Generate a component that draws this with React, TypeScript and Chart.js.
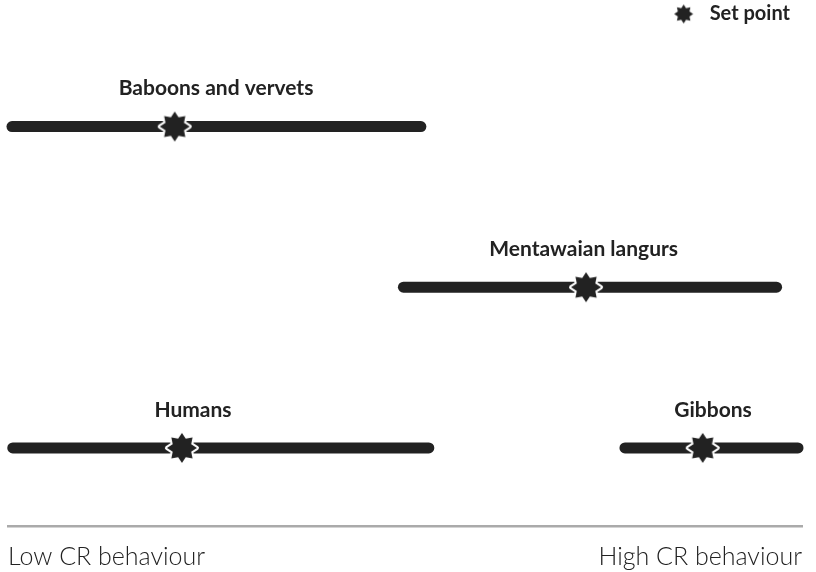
import React, { useEffect, useRef } from "react";
import { Chart, registerables } from "chart.js";
Chart.register(...registerables);

// ---- data ----
const groups = ["Baboons and vervets", "Mentawaian langurs", "Humans", "Gibbons"];
const rows = [3, 2, 1, 1];
const rangeLow = [0.5, 49.8, 0.6, 77.7];
const rangeHigh = [52.0, 96.8, 53.0, 99.5];
const setPoints = [21.0, 72.8, 21.9, 87.5];
const labelX = [26.2, 72.5, 23.3, 88.8];
const axisLabels = ["Low CR behaviour", "High CR behaviour"];
const legendLabel = "Set point";

const INK = "#222222";

function makeStar(outer: number, inner: number, border: number): HTMLCanvasElement {
  const size = Math.ceil((outer + border + 1) * 2);
  const c = document.createElement("canvas");
  c.width = size;
  c.height = size;
  const ctx = c.getContext("2d")!;
  const cx = size / 2;
  const cy = size / 2;
  const n = 8;
  ctx.beginPath();
  for (let i = 0; i < n * 2; i++) {
    const r = i % 2 === 0 ? outer : inner;
    const a = -Math.PI / 2 + (i * Math.PI) / n;
    const x = cx + r * Math.cos(a);
    const y = cy + r * Math.sin(a);
    if (i === 0) ctx.moveTo(x, y);
    else ctx.lineTo(x, y);
  }
  ctx.closePath();
  if (border > 0) {
    ctx.lineWidth = border * 2;
    ctx.lineJoin = "round";
    ctx.strokeStyle = "#ffffff";
    ctx.stroke();
  }
  ctx.fillStyle = INK;
  ctx.fill();
  return c;
}

export default function App() {
  const ref = useRef<HTMLCanvasElement>(null);

  useEffect(() => {
    if (!ref.current) return;
    const bigStar = makeStar(15, 10, 2);
    const smallStar = makeStar(9.5, 6.3, 0);

    const lineSets = groups.map((g, i) => ({
      type: "line" as const,
      label: g,
      data: [
        { x: rangeLow[i], y: rows[i] },
        { x: rangeHigh[i], y: rows[i] },
      ],
      borderColor: INK,
      backgroundColor: INK,
      borderWidth: 11,
      borderCapStyle: "round" as const,
      pointRadius: 0,
      fill: false,
      clip: false as any,
      order: 1,
    }));

    const starSet = {
      type: "scatter" as const,
      label: legendLabel,
      data: setPoints.map((v, i) => ({ x: v, y: rows[i] })),
      pointStyle: bigStar,
      pointRadius: 2,
      pointBorderWidth: 0,
      backgroundColor: INK,
      borderColor: INK,
      showLine: false,
      clip: false as any,
      order: 0,
    };

    const labelPlugin = {
      id: "groupLabels",
      afterLayout(chart: any) {
        // nudge the legend box inwards from the right edge
        if (chart.legend) chart.legend.right -= 8;
      },
      afterDatasetsDraw(chart: any) {
        const { ctx, scales } = chart;
        ctx.save();
        ctx.font = "bold 21px Lato";
        ctx.fillStyle = INK;
        ctx.textAlign = "center";
        ctx.textBaseline = "middle";
        groups.forEach((g, i) => {
          const x = scales.x.getPixelForValue(labelX[i]);
          const y = scales.y.getPixelForValue(rows[i]) - 38;
          ctx.fillText(g, x, y);
        });
        ctx.restore();
      },
    };

    const chart = new Chart(ref.current, {
      type: "line",
      data: { datasets: [starSet as any, ...lineSets] },
      options: {
        responsive: false,
        animation: false,
        layout: { autoPadding: false, padding: { left: 8, right: 14, top: 0, bottom: -16 } },
        plugins: {
          tooltip: { enabled: false },
          legend: {
            display: true,
            position: "top",
            align: "end",
            labels: {
              usePointStyle: true,
              pointStyleWidth: 32,
              font: { family: "Lato", size: 20, weight: "bold" },
              color: INK,
              padding: 4,
              generateLabels: () => [
                {
                  text: legendLabel,
                  pointStyle: smallStar,
                  fillStyle: INK,
                  strokeStyle: INK,
                  lineWidth: 0,
                  hidden: false,
                  datasetIndex: 0,
                  fontColor: INK,
                } as any,
              ],
            },
          },
        },
        scales: {
          x: {
            type: "linear",
            min: 0,
            max: 100,
            grid: { display: false, drawTicks: false },
            border: { display: true, color: "#aaaaaa", width: 2.5 },
            afterBuildTicks: (axis: any) => {
              axis.ticks = [{ value: 0 }, { value: 100 }];
            },
            ticks: {
              autoSkip: false,
              maxRotation: 0,
              align: "inner",
              padding: 4,
              color: INK,
              font: { family: "Lato", size: 25, weight: "300", lineHeight: 2.16 },
              callback: (v: any) => (v === 0 ? axisLabels[0] : axisLabels[1]),
            },
          },
          y: {
            type: "linear",
            display: false,
            min: 0.514,
            max: 3.576,
          },
        },
      },
      plugins: [labelPlugin],
    });
    return () => chart.destroy();
  }, []);

  return (
    <div style={{ position: "absolute", left: 0, top: 0, width: 816, height: 572 }}>
      <canvas ref={ref} width={816} height={572} />
    </div>
  );
}
